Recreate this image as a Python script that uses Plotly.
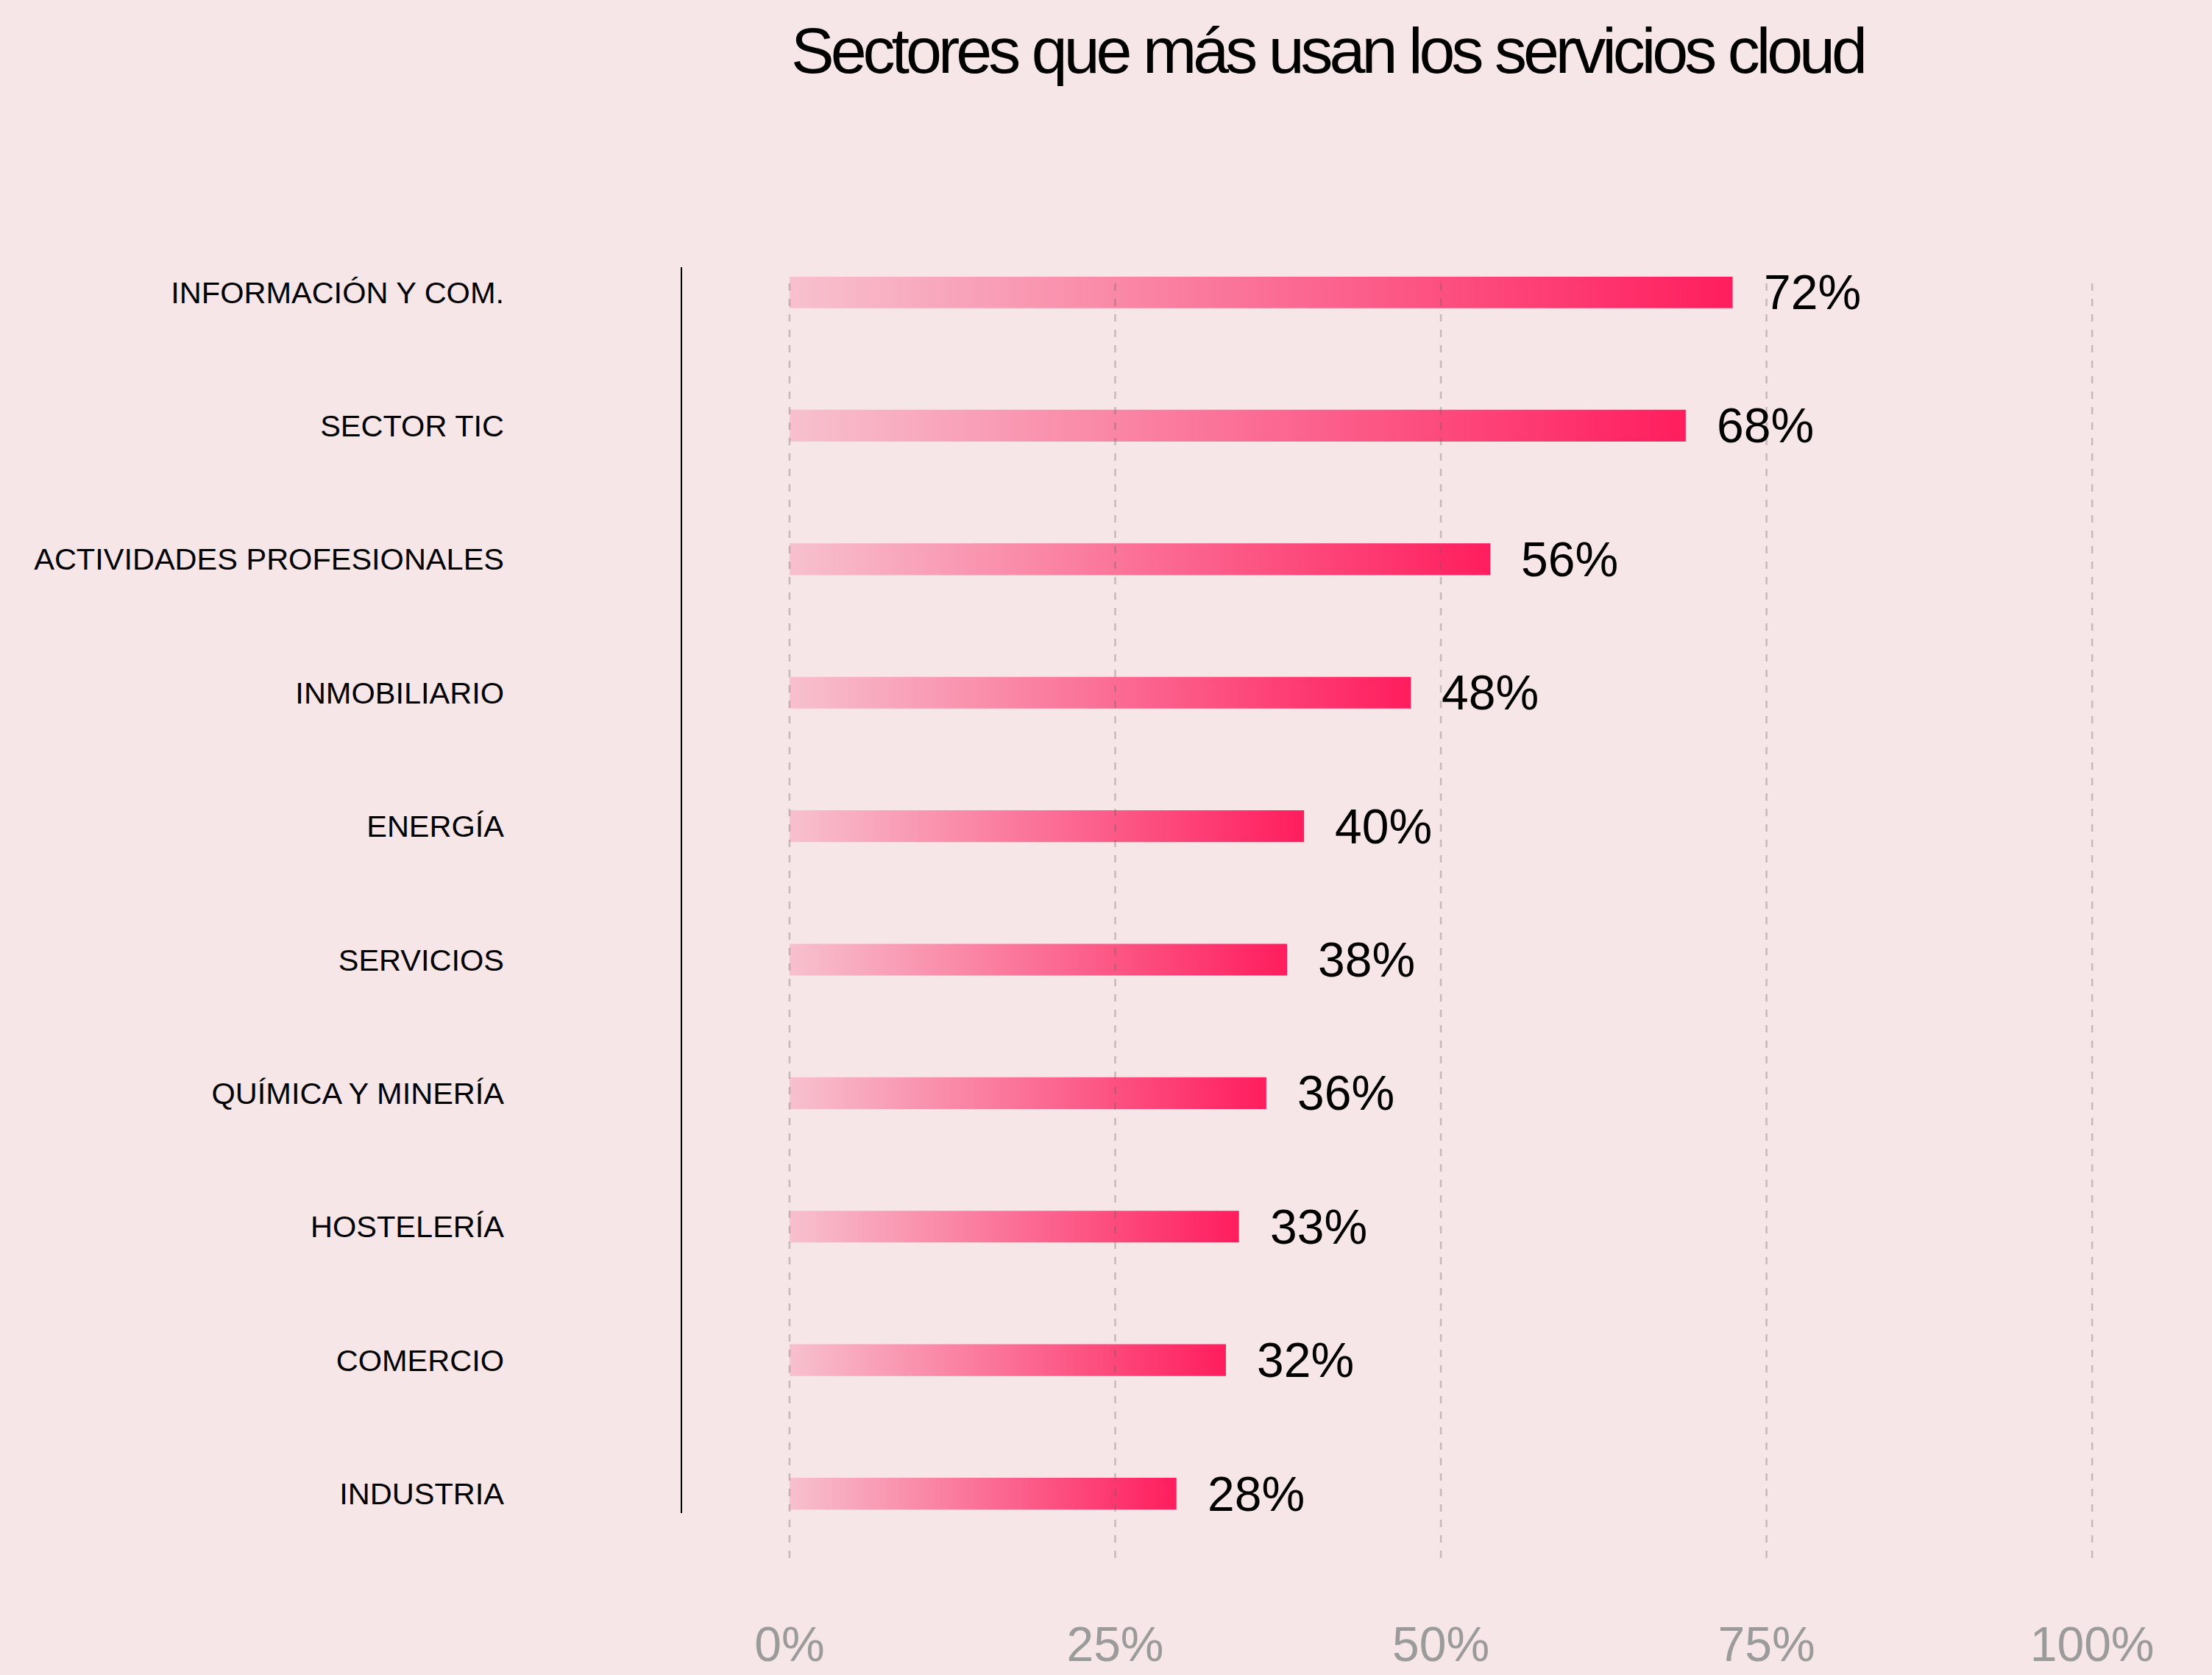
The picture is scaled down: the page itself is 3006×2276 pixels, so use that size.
import plotly.graph_objects as go

# ---------------- data ----------------
categories = [
    "INFORMACIÓN Y COM.",
    "SECTOR TIC",
    "ACTIVIDADES PROFESIONALES",
    "INMOBILIARIO",
    "ENERGÍA",
    "SERVICIOS",
    "QUÍMICA Y MINERÍA",
    "HOSTELERÍA",
    "COMERCIO",
    "INDUSTRIA",
]
label_values = [72, 68, 56, 48, 40, 38, 36, 33, 32, 28]          # printed labels (%)
bar_lengths = [72.4, 68.8, 53.8, 47.7, 39.5, 38.2, 36.6, 34.5, 33.5, 29.7]  # drawn bar lengths (%)
x_ticks = [0, 25, 50, 75, 100]
x_tick_labels = ["0%", "25%", "50%", "75%", "100%"]
title_text = "Sectores que más usan los servicios cloud"

# ---------------- styles ----------------
BG = "#f7e6e7"
BAR_HALF = 0.119
GRAD = [[0, "#f7c1ce"], [1, "#ff1d5e"]]
W, H = 3006, 2276
M_L, M_R, M_T, M_B = 926, 46, 376, 159

fig = go.Figure()

for i, (cat, v) in enumerate(zip(categories, bar_lengths)):
    fig.add_trace(go.Scatter(
        x=[0, v, v, 0, 0],
        y=[i - BAR_HALF, i - BAR_HALF, i + BAR_HALF, i + BAR_HALF, i - BAR_HALF],
        mode="lines",
        line=dict(width=0),
        fill="toself",
        fillgradient=dict(type="horizontal", colorscale=GRAD),
        hoverinfo="skip",
        showlegend=False,
        name=cat,
    ))

# value labels
for i, (v, lab) in enumerate(zip(bar_lengths, label_values)):
    fig.add_annotation(
        x=v, y=i, xref="x", yref="y",
        text=f"{lab}%", showarrow=False,
        xanchor="left", yanchor="middle", xshift=40,
        font=dict(family="Liberation Sans, Arial, sans-serif", size=66, color="#000000"),
    )

# dashed gridlines drawn above the bars
for t in x_ticks:
    fig.add_vline(x=t, line=dict(color="rgba(110,90,95,0.33)", width=2.5, dash="10px,11px"),
                  layer="above")

# vertical black line left of bars
plot_h = H - M_T - M_B
fig.add_shape(type="line", xref="paper", yref="paper",
              x0=0, x1=0,
              y0=(H - M_B - 2056) / plot_h, y1=(H - M_B - 363) / plot_h,
              line=dict(color="#000000", width=2))

fig.update_layout(
    width=W, height=H,
    paper_bgcolor=BG, plot_bgcolor=BG,
    margin=dict(l=M_L, r=M_R, t=M_T, b=M_B, pad=0, autoexpand=False),
    title=dict(
        text=f'<span style="letter-spacing:-5px">{title_text}</span>',
        x=1804 / W, xanchor="center", xref="container",
        y=1 - 68 / H, yanchor="middle", yref="container",
        font=dict(family="Liberation Sans, Arial, sans-serif", size=88, color="#000000"),
    ),
    xaxis=dict(
        range=[-8.3, 106.6],
        tickvals=x_ticks, ticktext=x_tick_labels,
        showgrid=False, zeroline=False, showline=False,
        ticks="", ticklabelstandoff=73, automargin=False,
        tickfont=dict(family="Liberation Sans, Arial, sans-serif", size=66, color="#9b9b9b"),
        fixedrange=True,
    ),
    yaxis=dict(
        range=[9.482, -0.116],
        tickvals=list(range(len(categories))), ticktext=categories,
        showgrid=False, zeroline=False, showline=False,
        ticks="", ticklabelstandoff=240, automargin=False,
        tickfont=dict(family="Liberation Sans, Arial, sans-serif", size=41.5, color="#000000"),
        fixedrange=True,
    ),
    showlegend=False,
)

fig.write_html(
    "out.html",
    config={"displayModeBar": False},
    post_script="document.body.style.margin='0';document.body.style.overflow='hidden';",
)
